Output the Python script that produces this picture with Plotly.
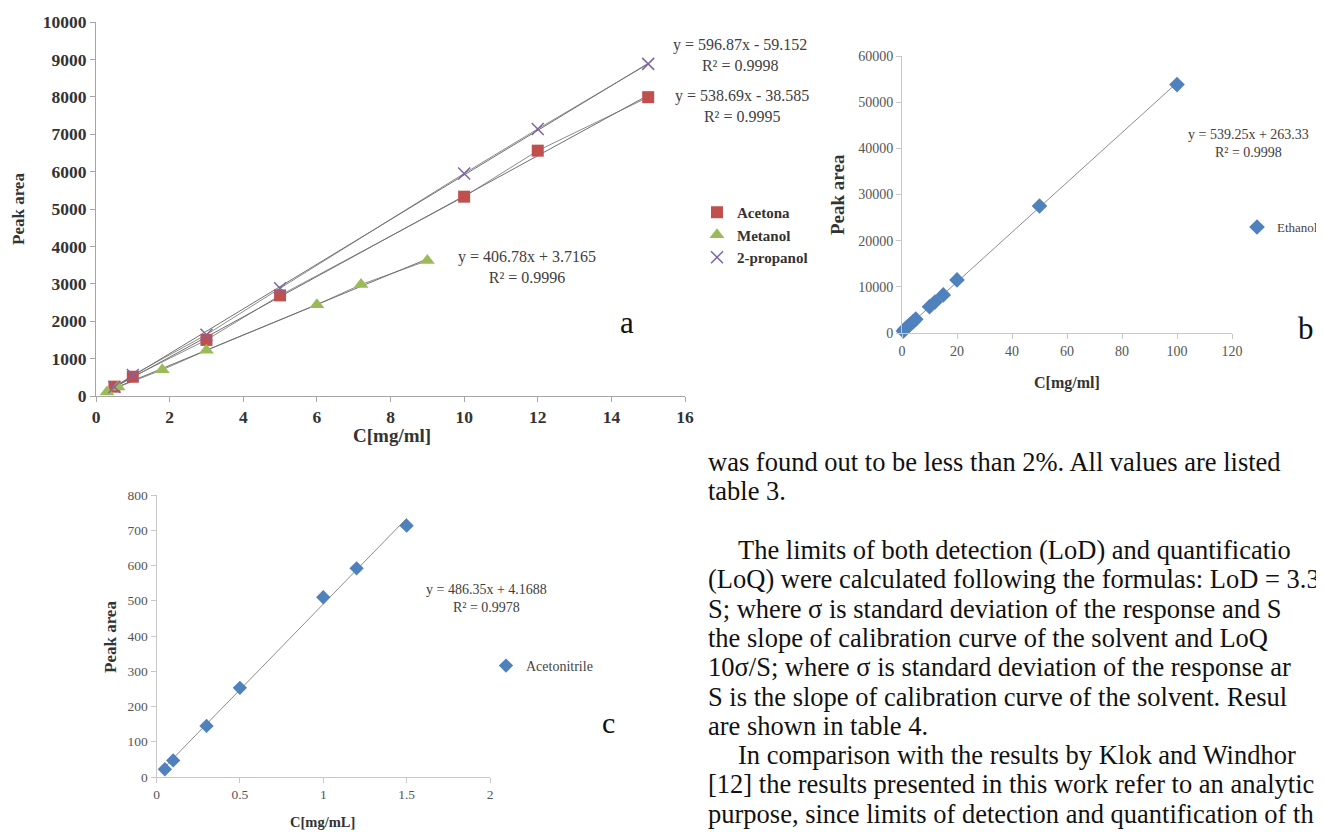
import plotly.graph_objects as go

W, H = 1324, 832
OFF = 8  # page body margin offset of the figure div

# ---------------- data: chart a ----------------
conc_a = [0.5, 1, 3, 5, 10, 12, 15]
acetona = [250, 515, 1500, 2690, 5330, 6560, 7990]
propanol = [240, 560, 1640, 2880, 5950, 7140, 8880]
conc_met = [0.3, 0.6, 1.8, 3, 6, 7.2, 9]
metanol = [110, 240, 700, 1220, 2440, 2980, 3620]
names_a = ["Acetona", "Metanol", "2-propanol"]
slopes_a = [538.69, 406.78, 596.87]
intercepts_a = [-38.585, 3.7165, -59.152]
r2_a = [0.9995, 0.9996, 0.9998]

# ---------------- data: chart b ----------------
conc_b = [0.5, 1, 2, 3, 4, 5, 10, 12, 15, 20, 50, 100]
ethanol = [450, 800, 1350, 1900, 2400, 3000, 5700, 6700, 8250, 11500, 27500, 53800]
slope_b, intercept_b, r2_b = 539.25, 263.33, 0.9998

# ---------------- data: chart c ----------------
conc_c = [0.05, 0.1, 0.3, 0.5, 1, 1.2, 1.5]
acetonitrile = [22, 47, 145, 253, 510, 592, 713]
slope_c, intercept_c, r2_c = 486.35, 4.1688, 0.9978

# ---------------- body text ----------------
body_lines = [
    "was found out to be less than 2%. All values are listed",
    "table 3.",
    "The limits of both detection (LoD) and quantificatio",
    "(LoQ) were calculated following the formulas: LoD = 3.3",
    "S; where σ is standard deviation of the response and S",
    "the slope of calibration curve of the solvent and LoQ",
    "10σ/S; where σ is standard deviation of the response ar",
    "S is the slope of calibration curve of the solvent. Resul",
    "are shown in table 4.",
    "In comparison with the results by Klok and Windhor",
    "[12] the results presented in this work refer to an analytic",
    "purpose, since limits of detection and quantification of th",
]
body_indent = [False, False, True, False, False, False, False, False, False, True, False, False]
body_y = [462, 491, 550, 579.3, 608.6, 637.9, 667.2, 696.5, 725.8, 755.1, 784.4, 813.7]

RED, GREEN, PURPLE, BLUE = "#C0504D", "#9BBB59", "#8064A2", "#4F81BD"
LINE = "#8c8c8c"
SERIF = "Liberation Serif"


def fx(px):
    return (px - OFF) / W


def fy(py):
    return 1 - (py - OFF) / H


def eq_text(m, b, r2):
    sign = "+" if b >= 0 else "-"
    return f"y = {m}x {sign} {abs(b)}<br>R² = {r2}"


fig = go.Figure()

# ---- chart a ----
series_a = [(conc_a, acetona, RED, "square", 12),
            (conc_met, metanol, GREEN, "triangle-up", 13),
            (conc_a, propanol, PURPLE, "x-thin-open", 12)]
for (xs, ys, col, sym, sz), m, b in zip(series_a, slopes_a, intercepts_a):
    fig.add_trace(go.Scatter(x=xs, y=ys, mode="lines", line=dict(color=LINE, width=1),
                             showlegend=False, xaxis="x", yaxis="y", hoverinfo="skip"))
    xe = [min(xs), max(xs)]
    fig.add_trace(go.Scatter(x=xe, y=[m * v + b for v in xe], mode="lines",
                             line=dict(color="#707070", width=1), showlegend=False,
                             xaxis="x", yaxis="y", hoverinfo="skip"))
for (xs, ys, col, sym, sz), nm in zip(series_a, names_a):
    mk = dict(color=col, symbol=sym, size=sz)
    if sym.startswith("x"):
        mk["line"] = dict(color=col, width=1.5)
    fig.add_trace(go.Scatter(x=xs, y=ys, mode="markers", marker=mk, name=nm,
                             xaxis="x", yaxis="y", legend="legend", cliponaxis=False))

# ---- chart b ----
xe = [min(conc_b), max(conc_b)]
fig.add_trace(go.Scatter(x=xe, y=[slope_b * v + intercept_b for v in xe], mode="lines",
                         line=dict(color=LINE, width=1), showlegend=False,
                         xaxis="x2", yaxis="y2", hoverinfo="skip"))
fig.add_trace(go.Scatter(x=conc_b, y=ethanol, mode="markers", name="Ethanol",
                         marker=dict(color=BLUE, symbol="diamond", size=12),
                         xaxis="x2", yaxis="y2", legend="legend2", cliponaxis=False))

# ---- chart c ----
xe = [min(conc_c), max(conc_c)]
fig.add_trace(go.Scatter(x=xe, y=[slope_c * v + intercept_c for v in xe], mode="lines",
                         line=dict(color=LINE, width=1), showlegend=False,
                         xaxis="x3", yaxis="y3", hoverinfo="skip"))
fig.add_trace(go.Scatter(x=conc_c, y=acetonitrile, mode="markers", name="Acetonitrile",
                         marker=dict(color=BLUE, symbol="diamond", size=11),
                         xaxis="x3", yaxis="y3", legend="legend3", cliponaxis=False))


def axis(domain, rng, dtick, anchor, font, lc, fmt=None):
    d = dict(domain=domain, range=rng, dtick=dtick, anchor=anchor, showgrid=False,
             zeroline=False, showline=True, linecolor=lc, linewidth=1,
             ticks="outside", ticklen=5, tickcolor=lc, tickfont=font,
             automargin=False, fixedrange=True)
    if fmt:
        d["tickformat"] = fmt
    return d


font_a = dict(family=SERIF, size=17.5, color="#333333", weight="bold")
font_b = dict(family=SERIF, size=14, color="#555555")
font_c = dict(family=SERIF, size=13.5, color="#555555")

annotations = []


def ann(text, x, y, size, bold=False, color="#333333", angle=0, xanchor="center"):
    annotations.append(dict(text=text, x=fx(x), y=fy(y), xref="paper", yref="paper",
                            showarrow=False, xanchor=xanchor, yanchor="middle",
                            textangle=angle, align="center",
                            font=dict(family=SERIF, size=size, color=color,
                                      weight="bold" if bold else "normal")))


# axis titles
ann("Peak area", 19, 209, 17, bold=True, angle=-90)
ann("C[mg/ml]", 392, 435, 19, bold=True)
ann("Peak area", 837, 195, 19, bold=True, angle=-90)
ann("C[mg/ml]", 1067, 383, 16, bold=True)
ann("Peak area", 110, 637, 17, bold=True, angle=-90)
ann("C[mg/mL]", 322, 822, 14.5, bold=True)

# trendline equations (order: Acetona, Metanol, 2-propanol)
eq_pos_a = [(742, 105.5), (527, 267), (740, 55)]
for (ex, ey), m, b, r2 in zip(eq_pos_a, slopes_a, intercepts_a, r2_a):
    ann(eq_text(m, b, r2), ex, ey, 16, color="#404040")
ann(eq_text(slope_b, intercept_b, r2_b), 1248, 143, 14, color="#404040")
ann(eq_text(slope_c, intercept_c, r2_c), 486, 598, 14, color="#404040")

# panel letters
ann("a", 627, 323, 31, color="#111111")
ann("b", 1306, 328, 31, color="#111111")
ann("c", 608, 722, 30, color="#111111")

# body text
for line, ind, y in zip(body_lines, body_indent, body_y):
    ann(line, 736 if ind else 706, y, 26.5, color="#111111", xanchor="left")

fig.update_layout(
    width=W, height=H, template="none",
    margin=dict(l=0, r=0, t=0, b=0),
    paper_bgcolor="white", plot_bgcolor="white",
    xaxis=axis([fx(96), fx(685)], [0, 16], 2, "y", font_a, "#a6a6a6"),
    yaxis=axis([fy(396), fy(22)], [0, 10000], 1000, "x", font_a, "#a6a6a6", "d"),
    xaxis2=axis([fx(902), fx(1232)], [0, 120], 20, "y2", font_b, "#c8c8c8"),
    yaxis2=axis([fy(333), fy(56)], [0, 60000], 10000, "x2", font_b, "#c8c8c8", "d"),
    xaxis3=axis([fx(156.5), fx(490)], [0, 2], 0.5, "y3", font_c, "#c8c8c8"),
    yaxis3=axis([fy(777), fy(495)], [0, 800], 100, "x3", font_c, "#c8c8c8"),
    legend=dict(x=fx(697), y=fy(196), xanchor="left", yanchor="top",
                font=dict(family=SERIF, size=15, color="#333333", weight="bold"),
                bgcolor="rgba(0,0,0,0)", itemclick=False),
    legend2=dict(x=fx(1237), y=fy(227), xanchor="left", yanchor="middle",
                 font=dict(family=SERIF, size=13, color="#444444"),
                 bgcolor="rgba(0,0,0,0)", itemclick=False),
    legend3=dict(x=fx(486), y=fy(666), xanchor="left", yanchor="middle",
                 font=dict(family=SERIF, size=14, color="#444444"),
                 bgcolor="rgba(0,0,0,0)", itemclick=False),
    annotations=annotations,
    showlegend=True,
)

fig.write_html("out.html")
